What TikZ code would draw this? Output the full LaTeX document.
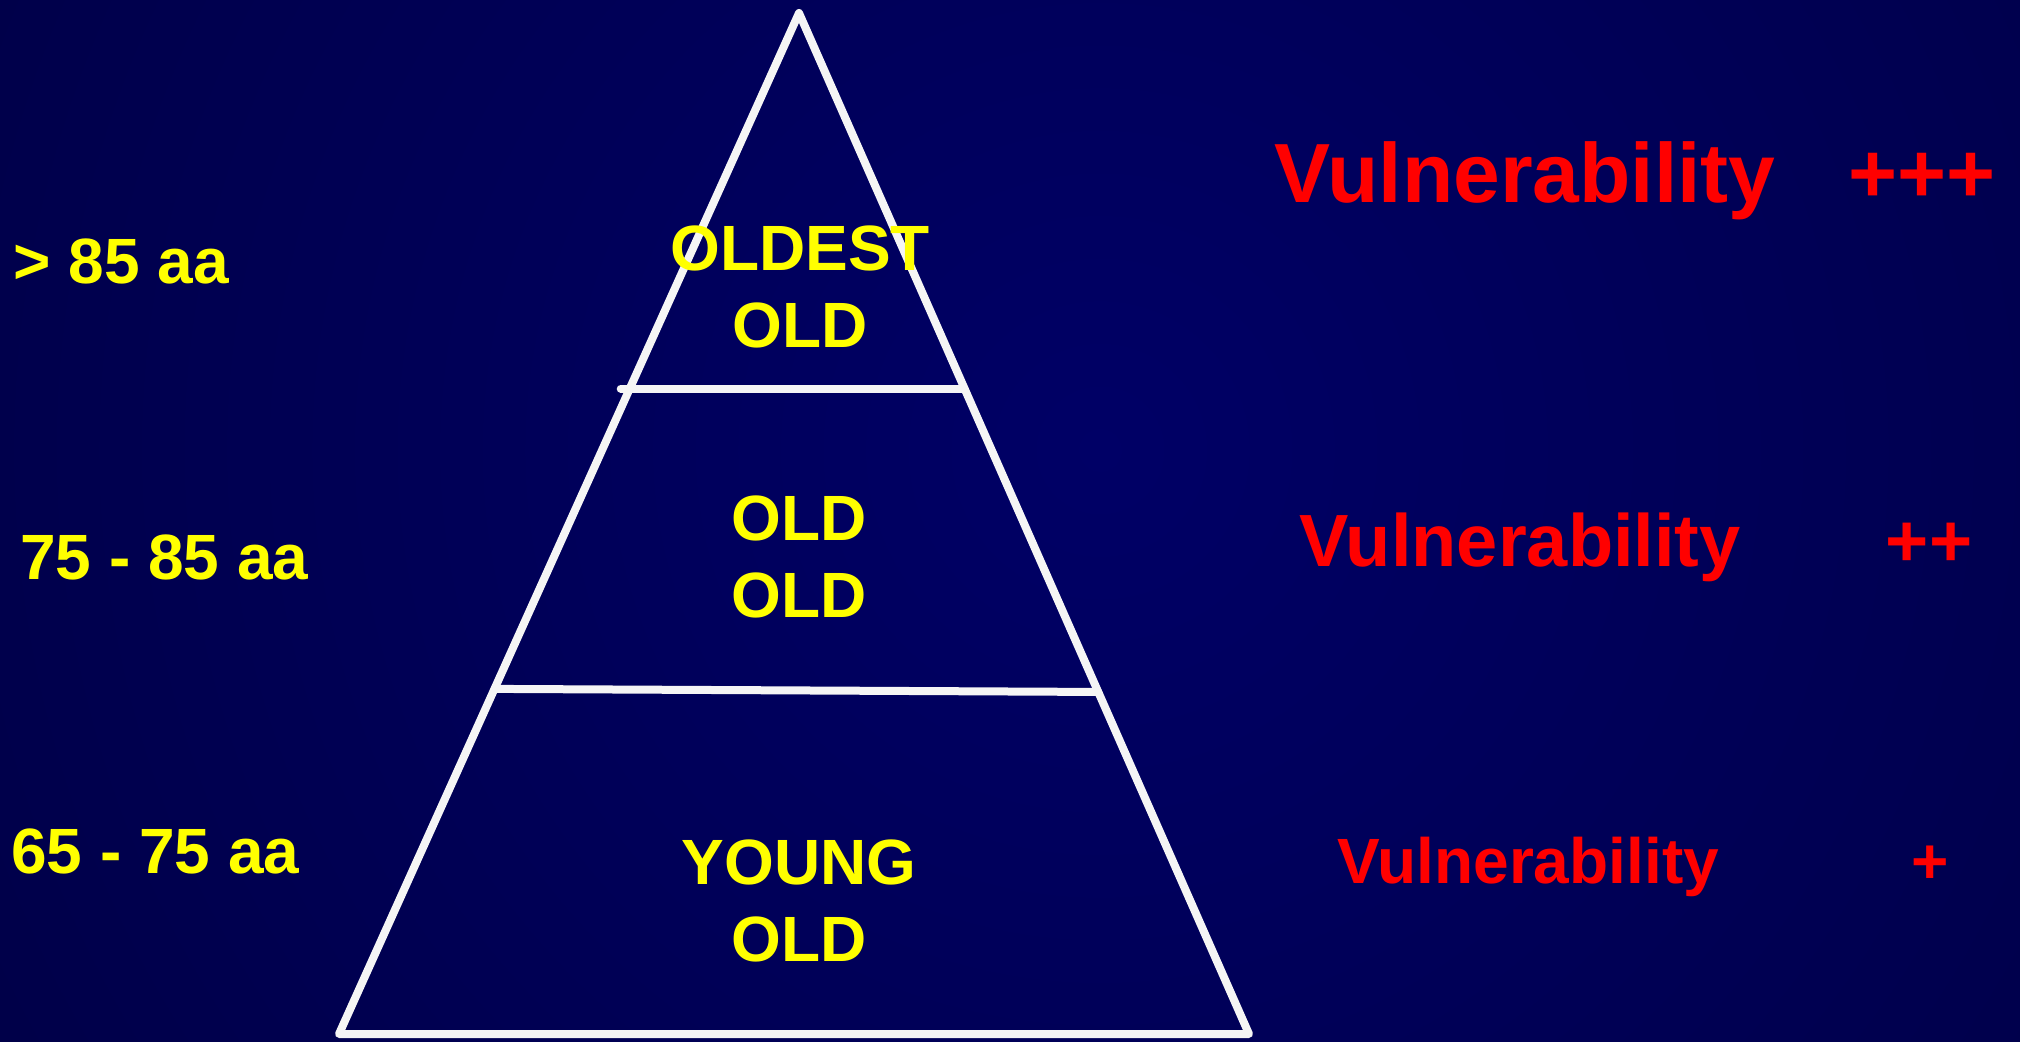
\documentclass[tikz,border=0pt]{standalone}
\usepackage{fontspec}
\setmainfont{Liberation Sans}
\usetikzlibrary{calc}
\definecolor{bgInner}{HTML}{000066}
\definecolor{bgOuter}{HTML}{000030}
\definecolor{lineWhite}{HTML}{F5F5F5}
\definecolor{ageYellow}{HTML}{FFFF00}
\definecolor{vulnRed}{HTML}{FF0000}

\begin{document}
\begin{tikzpicture}[
  x=0.5pt, y=-0.5pt,
  age/.style  ={text=ageYellow, font=\fontsize{32}{38}\selectfont\bfseries, inner sep=0pt, anchor=base west},
  band/.style ={text=ageYellow, font=\fontsize{32}{38.5}\selectfont\bfseries, inner sep=0pt, align=center},
  vuln/.style ={text=vulnRed, inner sep=0pt, anchor=base},
  pyr/.style  ={draw=lineWhite, line width=4pt, line cap=round, line join=round},
]

% ============ Background ============
\useasboundingbox (0,0) rectangle (2020,1042);
\fill[bgOuter] (0,0) rectangle (2020,1042);
\begin{scope}
  \clip (0,0) rectangle (2020,1042);
  \shade[inner color=bgInner, outer color=bgOuter] (1100,450) circle (2300);
\end{scope}

% ============ Pyramid ============
\coordinate (apex) at (799,13);
\coordinate (bl)   at (339,1034);
\coordinate (br)   at (1249,1034);

\draw[pyr] (apex) -- (bl) -- (br) -- cycle;
\draw[pyr] ($(apex)!0.368!(bl)+(-9,0)$) -- ($(apex)!0.368!(br)$);
\draw[pyr] ($(apex)!0.662!(bl)$) -- ($(apex)!0.665!(br)$);

% ============ Band labels ============
\node[band] (lblOldest) at (800,287) {OLDEST\\OLD};
\node[band] (lblOld)    at (799,557) {OLD\\OLD};
\node[band] (lblYoung)  at (799,901) {YOUNG\\OLD};

% ============ Age ranges ============
\node[age] (ageTop) at (13,284) {> 85 aa};
\node[age] (ageMid) at (20,580) {75 - 85 aa};
\node[age] (ageLow) at (11,873) {65 - 75 aa};

% ============ Vulnerability ============
\node[vuln, font=\fontsize{42}{50}\selectfont\bfseries] (vulnTop) at (1525,203) {Vulnerability};
\node[vuln, font=\fontsize{42}{50}\selectfont\bfseries] (plusTop) at (1922,203) {+++};
\node[vuln, font=\fontsize{37}{44}\selectfont\bfseries] (vulnMid) at (1520,567) {Vulnerability};
\node[vuln, font=\fontsize{37}{44}\selectfont\bfseries] (plusMid) at (1929,567) {++};
\node[vuln, font=\fontsize{32}{38}\selectfont\bfseries] (vulnLow) at (1528,884) {Vulnerability};
\node[vuln, font=\fontsize{32}{38}\selectfont\bfseries] (plusLow) at (1930,884) {+};

\end{tikzpicture}
\end{document}
